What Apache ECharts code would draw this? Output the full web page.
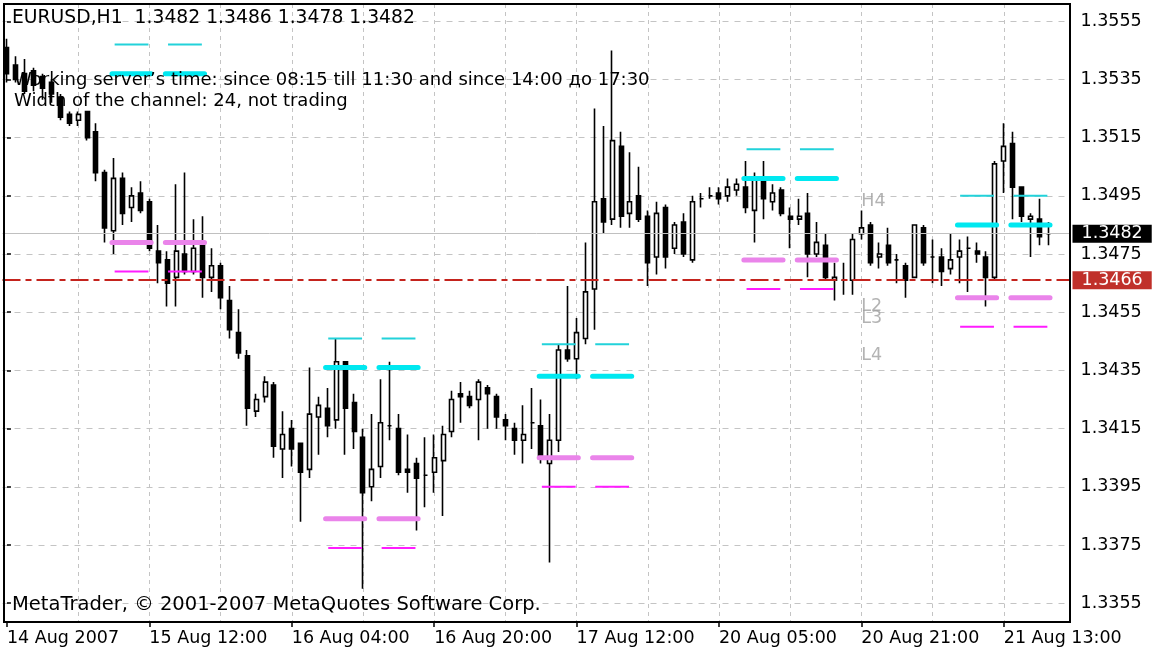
<!DOCTYPE html>
<html><head><meta charset="utf-8">
<script src="https://cdn.jsdelivr.net/npm/echarts@6/dist/echarts.min.js"></script>
<style>html,body{margin:0;padding:0;background:#fff}#c{width:1157px;height:651px}</style>
</head><body><div id="c"></div>
<script>
// ---- data ----
const symbolTitle = 'EURUSD,H1  1.3482 1.3486 1.3478 1.3482';
const infoLine1 = 'Working server\u2019s time: since 08:15 till 11:30 and since 14:00 до 17:30';
const infoLine2 = 'Width of the channel: 24, not trading';
const copyright = 'MetaTrader, \u00a9 2001-2007 MetaQuotes Software Corp.';
const timeTickLabels = ['14 Aug 2007','15 Aug 12:00','16 Aug 04:00','16 Aug 20:00','17 Aug 12:00','20 Aug 05:00','20 Aug 21:00','21 Aug 13:00'];
const barsPerTimeLabel = 16;
const priceMin = 1.3355, priceMax = 1.3555, priceStep = 0.0020;

const opens = [1.3546,1.3540,1.3537,1.3538,1.3536,1.3534,1.3529,1.3523,1.3521,1.3524,
1.3517,1.3503,1.3483,1.3501,1.3491,1.3496,1.3493,1.3476,1.3473,1.3467,
1.3475,1.3469,1.3478,1.3467,1.3471,1.3459,1.3448,1.3440,1.3421,1.3426,
1.3430,1.3408,1.3415,1.3410,1.3401,1.3419,1.3422,1.3418,1.3438,1.3424,
1.3412,1.3395,1.3402,1.3416,1.3415,1.3401,1.3403,1.3399,1.3400,1.3404,
1.3414,1.3427,1.3426,1.3425,1.3429,1.3426,1.3418,1.3415,1.3411,1.3417,
1.3416,1.3403,1.3411,1.3442,1.3439,1.3446,1.3463,1.3494,1.3487,1.3512,
1.3489,1.3495,1.3488,1.3474,1.3491,1.3477,1.3486,1.3473,1.3494,1.3495,
1.3496,1.3495,1.3497,1.3498,1.3490,1.3501,1.3493,1.3497,1.3488,1.3487,
1.3489,1.3475,1.3478,1.3466,1.3466,1.3466,1.3482,1.3485,1.3474,1.3478,
1.3473,1.3471,1.3467,1.3484,1.3474,1.3474,1.3470,1.3474,1.3477,1.3476,
1.3474,1.3467,1.3507,1.3513,1.3498,1.3487,1.3487,1.3482];
const closes = [1.3537,1.3535,1.3531,1.3533,1.3532,1.3530,1.3522,1.3520,1.3523,1.3515,
1.3503,1.3484,1.3501,1.3489,1.3495,1.3490,1.3477,1.3472,1.3465,1.3476,
1.3469,1.3477,1.3467,1.3471,1.3460,1.3449,1.3441,1.3422,1.3425,1.3431,
1.3409,1.3413,1.3408,1.3400,1.3420,1.3423,1.3416,1.3438,1.3422,1.3414,
1.3393,1.3401,1.3417,1.3416,1.3400,1.3400,1.3398,1.3399,1.3405,1.3413,
1.3425,1.3426,1.3423,1.3431,1.3427,1.3419,1.3416,1.3411,1.3413,1.3417,
1.3405,1.3411,1.3442,1.3439,1.3448,1.3462,1.3493,1.3486,1.3514,1.3488,
1.3493,1.3487,1.3472,1.3489,1.3474,1.3485,1.3475,1.3493,1.3494,1.3495,
1.3494,1.3498,1.3499,1.3491,1.3501,1.3494,1.3496,1.3489,1.3487,1.3488,
1.3475,1.3479,1.3467,1.3467,1.3466,1.3480,1.3484,1.3472,1.3475,1.3472,
1.3473,1.3466,1.3485,1.3472,1.3474,1.3469,1.3473,1.3476,1.3477,1.3475,
1.3467,1.3506,1.3512,1.3498,1.3488,1.3488,1.3481,1.3482];
const lows = [1.3534,1.3534,1.3530,1.3531,1.3528,1.3527,1.3521,1.3519,1.3519,1.3514,
1.3500,1.3479,1.3475,1.3485,1.3486,1.3489,1.3476,1.3465,1.3457,1.3457,
1.3468,1.3468,1.3460,1.3462,1.3456,1.3446,1.3439,1.3416,1.3419,1.3424,
1.3405,1.3398,1.3402,1.3383,1.3398,1.3406,1.3412,1.3415,1.3406,1.3408,
1.3360,1.3390,1.3398,1.3411,1.3399,1.3393,1.3380,1.3388,1.3393,1.3385,
1.3412,1.3417,1.3422,1.3411,1.3415,1.3415,1.3411,1.3406,1.3403,1.3408,
1.3403,1.3369,1.3407,1.3438,1.3432,1.3444,1.3449,1.3482,1.3485,1.3484,
1.3484,1.3486,1.3464,1.3468,1.3470,1.3475,1.3474,1.3472,1.3491,1.3494,
1.3492,1.3493,1.3495,1.3489,1.3479,1.3487,1.3490,1.3488,1.3477,1.3485,
1.3467,1.3474,1.3466,1.3459,1.3461,1.3461,1.3480,1.3471,1.3470,1.3471,
1.3465,1.3460,1.3467,1.3471,1.3465,1.3464,1.3468,1.3465,1.3462,1.3472,
1.3457,1.3466,1.3496,1.3487,1.3486,1.3474,1.3478,1.3478];
const highs = [1.3549,1.3543,1.3542,1.3539,1.3537,1.3535,1.3530,1.3524,1.3524,1.3524,
1.3520,1.3504,1.3508,1.3503,1.3498,1.3500,1.3494,1.3485,1.3476,1.3499,
1.3503,1.3487,1.3488,1.3477,1.3472,1.3464,1.3456,1.3442,1.3427,1.3433,
1.3431,1.3421,1.3418,1.3410,1.3436,1.3426,1.3429,1.3446,1.3438,1.3427,
1.3415,1.3420,1.3432,1.3438,1.3420,1.3413,1.3405,1.3412,1.3413,1.3416,
1.3428,1.3431,1.3428,1.3432,1.3430,1.3427,1.3420,1.3417,1.3423,1.3429,
1.3425,1.3420,1.3444,1.3464,1.3453,1.3479,1.3525,1.3519,1.3545,1.3517,
1.3510,1.3505,1.3490,1.3493,1.3492,1.3486,1.3489,1.3495,1.3496,1.3498,
1.3498,1.3501,1.3501,1.3507,1.3503,1.3507,1.3499,1.3498,1.3491,1.3494,
1.3496,1.3486,1.3482,1.3472,1.3472,1.3482,1.3490,1.3486,1.3479,1.3484,
1.3475,1.3472,1.3485,1.3485,1.3480,1.3477,1.3482,1.3480,1.3481,1.3479,
1.3476,1.3507,1.3520,1.3517,1.3498,1.3489,1.3494,1.3486];
const emptyBarsRight = 2;

// channel levels per trading day (bar index of 08:00 each day)
const dayStartBars = [12, 36, 60, 83, 107];
const sessionHours = [[0, 4], [6, 10]];       // 08:00-12:00, 14:00-18:00
const upperOuter = [1.3547, 1.3446, 1.3444, 1.3511, 1.3495];
const upperInner = [1.3537, 1.3436, 1.3433, 1.3501, 1.3485];
const lowerInner = [1.3479, 1.3384, 1.3405, 1.3473, 1.3460];
const lowerOuter = [1.3469, 1.3374, 1.3395, 1.3463, 1.3450];

const levelTags = ['H4', 'L2', 'L3', 'L4'];
const levelTagPrices = [1.3493, 1.3457, 1.3453, 1.3440];
const levelTagBar = 96;

const bidPrice = 1.3482;
const alertPrice = 1.3466;

// ---- build ----
const nBars = opens.length;
const nCats = nBars + emptyBarsRight;
const cats = Array.from({length: nCats}, (_, i) => String(i));
const candles = opens.map((o, i) => [o, closes[i], lows[i], highs[i]]);

function segs(levels, pad) {
  const d = [];
  dayStartBars.forEach((s, k) => {
    sessionHours.forEach(([a, b]) => {
      d.push([s + a - pad, levels[k]], [s + b + pad, levels[k]], [null, null]);
    });
  });
  return d;
}

const FONT = '"DejaVu Sans", Verdana, sans-serif';
const FS = 17.5;   // axis labels
const FT = 18;     // info texts
const BW = 8.9;    // px per bar
const gridLeft = 2.5;
const gridW = nCats * BW;

const priceLabel = (v, bg) => ({show: true, position: 'end', distance: 2, formatter: v.toFixed(4),
  backgroundColor: bg, color: '#fff', padding: [1, 9, 0, 9], lineHeight: 17, fontSize: FS, fontFamily: FONT});

const chart = echarts.init(document.getElementById('c'), null, {renderer: 'canvas'});
chart.setOption({
  animation: false,
  backgroundColor: '#ffffff',
  textStyle: {fontFamily: FONT},
  grid: [
    {left: gridLeft, width: gridW, top: 21.3, height: 581.9},
    {left: gridLeft + BW / 2, width: (nCats - 1) * BW, top: 4, height: 618}
  ],
  xAxis: [
    {type: 'category', gridIndex: 0, data: cats, boundaryGap: true, show: false},
    {type: 'category', gridIndex: 1, data: cats, boundaryGap: false,
      axisLine: {show: false},
      axisTick: {show: true, interval: barsPerTimeLabel - 1, length: 5, lineStyle: {color: '#000', width: 1.5}},
      axisLabel: {show: true, interval: barsPerTimeLabel - 1, align: 'left', margin: 7,
        color: '#000', fontSize: FS, fontFamily: FONT,
        formatter: (v, i) => timeTickLabels[i / barsPerTimeLabel] || ''},
      splitLine: {show: true, interval: 7, showMinLine: false,
        lineStyle: {color: '#c4c4c4', width: 1, type: [4, 4]}}
    },
    {type: 'value', gridIndex: 0, min: -0.5, max: nCats - 0.5, show: false}
  ],
  yAxis: [
    {type: 'value', gridIndex: 0, position: 'right', min: priceMin, max: priceMax, interval: priceStep,
      axisLine: {show: false},
      axisTick: {show: true, length: 4, lineStyle: {color: '#000', width: 1.5}},
      axisLabel: {show: true, margin: 10, color: '#000', fontSize: FS, fontFamily: FONT,
        formatter: v => v.toFixed(4)},
      splitLine: {show: true, lineStyle: {color: '#c4c4c4', width: 1, type: [6, 6]}}
    },
    {type: 'value', gridIndex: 1, show: false, min: 0, max: 1}
  ],
  graphic: [
    {type: 'rect', z: 100, silent: true, shape: {x: 4, y: 4, width: 1066, height: 618},
      style: {fill: 'none', stroke: '#000', lineWidth: 2}},
    {type: 'text', z: 100, x: 12, y: 18, style: {text: symbolTitle, font: '18.75px ' + FONT, fill: '#000', verticalAlign: 'middle'}},
    {type: 'text', z: 100, x: 14, y: 80, style: {text: infoLine1, font: FT + 'px ' + FONT, fill: '#000', verticalAlign: 'middle'}},
    {type: 'text', z: 100, x: 14, y: 101, style: {text: infoLine2, font: FT + 'px ' + FONT, fill: '#000', verticalAlign: 'middle'}},
    {type: 'text', z: 100, x: 12, y: 605, style: {text: copyright, font: '19.5px ' + FONT, fill: '#000', verticalAlign: 'middle'}}
  ],
  series: [
    {type: 'candlestick', xAxisIndex: 0, yAxisIndex: 0, data: candles, barWidth: 4.5, z: 2, silent: true,
      itemStyle: {color: '#ffffff', color0: '#000000', borderColor: '#000000', borderColor0: '#000000',
        borderColorDoji: '#000000', borderWidth: 1.6}
    },
    {type: 'line', xAxisIndex: 2, yAxisIndex: 0, data: [], symbol: 'none', z: 1, silent: true,
      markLine: {silent: true, symbol: ['none', 'none'], animation: false, precision: 4,
        data: [
          {yAxis: bidPrice, lineStyle: {color: '#c0c0c0', width: 1, type: 'solid'}, label: priceLabel(bidPrice, '#000000')},
          {yAxis: alertPrice, lineStyle: {color: '#c4231d', width: 2, type: [18, 5, 6, 5]}, label: priceLabel(alertPrice, '#c0302a')}
        ]}
    },
    {type: 'line', xAxisIndex: 2, yAxisIndex: 0, data: segs(upperOuter, -0.1), symbol: 'none', z: 5, silent: true,
      connectNulls: false, lineStyle: {color: '#22d2da', width: 2}},
    {type: 'line', xAxisIndex: 2, yAxisIndex: 0, data: segs(upperInner, 0.2), symbol: 'none', z: 5, silent: true,
      connectNulls: false, lineStyle: {color: '#00e8f0', width: 5, cap: 'round'}},
    {type: 'line', xAxisIndex: 2, yAxisIndex: 0, data: segs(lowerInner, 0.2), symbol: 'none', z: 5, silent: true,
      connectNulls: false, lineStyle: {color: '#ea84ea', width: 5, cap: 'round'}},
    {type: 'line', xAxisIndex: 2, yAxisIndex: 0, data: segs(lowerOuter, -0.1), symbol: 'none', z: 5, silent: true,
      connectNulls: false, lineStyle: {color: '#ff1cff', width: 2}},
    {type: 'scatter', xAxisIndex: 2, yAxisIndex: 0, symbolSize: 0, z: 6, silent: true,
      data: levelTags.map((t, i) => ({name: t, value: [levelTagBar, levelTagPrices[i]]})),
      label: {show: true, position: 'right', distance: 0, formatter: p => p.name,
        color: '#a0a0a0', fontSize: FS, fontFamily: FONT}}
  ]
});
</script>
</body></html>
